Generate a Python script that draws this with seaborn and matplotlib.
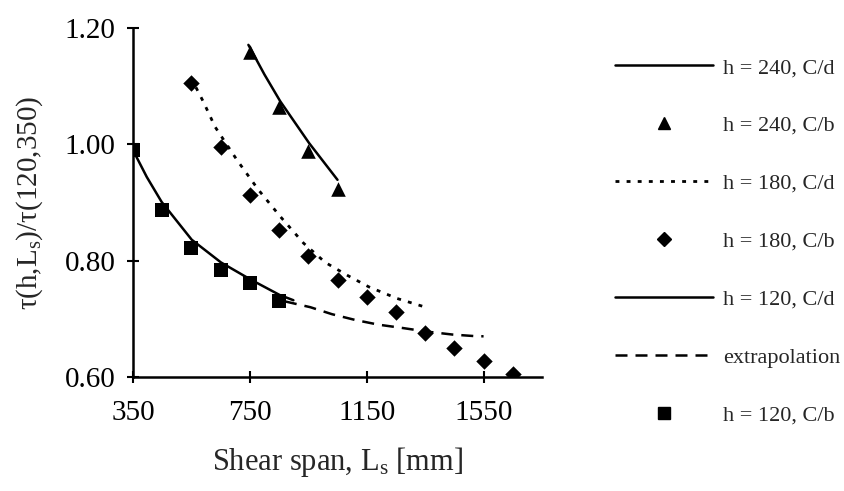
import matplotlib
matplotlib.use("Agg")
import matplotlib.pyplot as plt
import seaborn as sns
import pandas as pd
from matplotlib.lines import Line2D

sns.set_style("ticks")
plt.rcParams["font.family"] = ["Liberation Serif", "DejaVu Serif"]
plt.rcParams["mathtext.fontset"] = "custom"
plt.rcParams["mathtext.rm"] = "Liberation Serif"
plt.rcParams["mathtext.it"] = "Liberation Serif:italic"

# ---- data ----
# h = 240, C/b (triangles)
x240_b = [750, 850, 950, 1050]
y240_b = [1.158, 1.064, 0.989, 0.924]
# h = 240, C/d (solid line)
x240_d = [745, 800, 854, 953, 1050]
y240_d = [1.171, 1.120, 1.074, 1.002, 0.939]

# h = 180, C/b (diamonds)
x180_b = [550, 650, 750, 850, 950, 1050, 1150, 1250, 1350, 1450, 1550, 1650]
y180_b = [1.106, 0.995, 0.913, 0.852, 0.808, 0.766, 0.737, 0.712, 0.675, 0.649, 0.628, 0.605]
# h = 180, C/d (dotted line)
x180_d = [548, 591, 631, 706, 779, 854, 934, 1008, 1083, 1157, 1254, 1345]
y180_d = [1.115, 1.073, 1.030, 0.973, 0.922, 0.876, 0.830, 0.797, 0.775, 0.755, 0.735, 0.721]

# h = 120, C/b (squares)
x120_b = [350, 450, 550, 650, 750, 850]
y120_b = [0.990, 0.887, 0.822, 0.784, 0.761, 0.731]
# h = 120, C/d (solid line)
x120_d = [350, 397, 448, 551, 651, 751, 852, 899]
y120_d = [0.990, 0.944, 0.901, 0.836, 0.797, 0.768, 0.741, 0.732]
# extrapolation (dashed line)
x_ext = [870, 957, 1031, 1111, 1190, 1276, 1357, 1443, 1528, 1550]
y_ext = [0.730, 0.720, 0.708, 0.698, 0.690, 0.684, 0.678, 0.673, 0.670, 0.670]

x_ticks = [350, 750, 1150, 1550]
y_ticks = [0.60, 0.80, 1.00, 1.20]

labels = ["h = 240, C/d", "h = 240, C/b", "h = 180, C/d", "h = 180, C/b",
          "h = 120, C/d", "extrapolation", "h = 120, C/b"]

# ---- figure ----
fig = plt.figure(figsize=(8.45, 4.91), dpi=100)
ax = fig.add_axes([133 / 845, 1 - 377 / 491, (542 - 133) / 845, (377 - 28) / 491])

lw = 1.8
black = "black"

sns.lineplot(x=x240_d, y=y240_d, ax=ax, color=black, lw=lw, sort=False, estimator=None)
sns.lineplot(x=x180_d, y=y180_d, ax=ax, color=black, lw=2.0, sort=False, estimator=None)
ax.lines[-1].set_linestyle((0, (1.4, 2.6)))
sns.lineplot(x=x120_d, y=y120_d, ax=ax, color=black, lw=lw, sort=False, estimator=None)
sns.lineplot(x=x_ext, y=y_ext, ax=ax, color=black, lw=lw, sort=False, estimator=None)
ax.lines[-1].set_linestyle((0, (4.8, 3.2)))

sns.scatterplot(x=x240_b, y=y240_b, ax=ax, marker="^", s=110, color=black, edgecolor=black, linewidth=0, zorder=3)
sns.scatterplot(x=x180_b, y=y180_b, ax=ax, marker="D", s=70, color=black, edgecolor=black, linewidth=0, zorder=3)
sns.scatterplot(x=x120_b, y=y120_b, ax=ax, marker="s", s=95, color=black, edgecolor=black, linewidth=0, zorder=3)

ax.set_xlim(350, 1750)
ax.set_ylim(0.60, 1.20)
ax.set_xticks(x_ticks)
ax.set_yticks(y_ticks)
ax.set_xticklabels([str(t) for t in x_ticks])
ax.set_yticklabels([f"{t:.2f}" for t in y_ticks])
ax.tick_params(axis="both", direction="inout", length=9, width=1.5, labelsize=21,
               colors=black, pad=8)
ax.tick_params(axis="x", pad=12)
for side in ["top", "right"]:
    ax.spines[side].set_visible(False)
for side in ["left", "bottom"]:
    ax.spines[side].set_linewidth(1.8)
    ax.spines[side].set_color(black)
ax.patch.set_alpha(0)

ax.set_xlabel(r"Shear span, L$_\mathregular{s}$ [mm]", fontsize=22, labelpad=14)
ax.set_ylabel(r"$\mathregular{\tau(h{,}L_s)/\tau(120{,}350)}$", fontsize=21, labelpad=14)

handles = [
    Line2D([], [], color=black, lw=lw),
    Line2D([], [], color=black, lw=0, marker="^", ms=9),
    Line2D([], [], color=black, lw=2.0, linestyle=(0, (1.4, 2.6))),
    Line2D([], [], color=black, lw=0, marker="D", ms=7),
    Line2D([], [], color=black, lw=lw),
    Line2D([], [], color=black, lw=lw, linestyle=(0, (4.8, 3.2))),
    Line2D([], [], color=black, lw=0, marker="s", ms=9),
]
fig.legend(handles, labels, loc="center left", bbox_to_anchor=(615 / 845, 1 - 241.5 / 491),
           bbox_transform=fig.transFigure, frameon=False, fontsize=16,
           handlelength=4.4, handletextpad=0.45, labelspacing=1.68, borderpad=0,
           borderaxespad=0)

fig.savefig("out.png", dpi=100)
